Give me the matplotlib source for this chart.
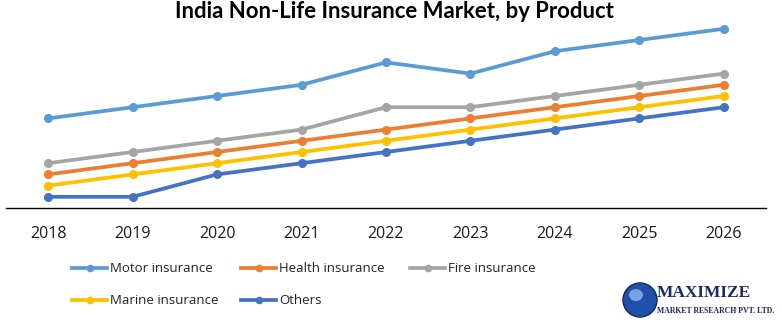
import matplotlib
matplotlib.use("Agg")
import matplotlib.pyplot as plt
from matplotlib.lines import Line2D
from matplotlib.patches import Ellipse

years = ["2018", "2019", "2020", "2021", "2022", "2023", "2024", "2025", "2026"]
motor = [8, 9, 10, 11, 13, 12, 14, 15, 16]
health = [3, 4, 5, 6, 7, 8, 9, 10, 11]
fire = [4, 5, 6, 7, 9, 9, 10, 11, 12]
marine = [2, 3, 4, 5, 6, 7, 8, 9, 10]
others = [1, 1, 3, 4, 5, 6, 7, 8, 9]

series = [
    ("Motor insurance", motor, "#5B9BD5"),
    ("Health insurance", health, "#ED7D31"),
    ("Fire insurance", fire, "#A5A5A5"),
    ("Marine insurance", marine, "#FFC000"),
    ("Others", others, "#4472C4"),
]

plt.rcParams["font.family"] = ["Open Sans", "DejaVu Sans"]

W, H = 782, 326
fig = plt.figure(figsize=(W / 100, H / 100), dpi=100)
ax = fig.add_axes([6 / W, (H - 208) / H, 760 / W, (208 - 17.6) / H])

x = list(range(len(years)))
# draw back to front so Motor sits on top
for name, vals, col in reversed(series):
    ax.plot(x, vals, color=col, lw=2.7, marker="o", ms=5.5,
            solid_capstyle="round", zorder=3)

ax.set_xlim(-0.5, len(years) - 0.5)
ax.set_ylim(0, 17)
ax.set_xticks(x)
ax.set_xticklabels(years, fontsize=11.5, color="#1a1a1a")
ax.tick_params(axis="x", length=0, pad=13)
ax.set_yticks([])
for s in ("top", "right", "left"):
    ax.spines[s].set_visible(False)
ax.spines["bottom"].set_color("#000000")
ax.spines["bottom"].set_linewidth(1.0)

title = fig.text(394 / W, 1 - 12 / H, "India Non-Life Insurance Market, by Product",
                 ha="center", va="center", fontsize=14, fontweight="bold",
                 family=["Lato", "DejaVu Sans"])
# fit the title to its intended span of 442 px
fig.canvas.draw()
tw = title.get_window_extent().width
title.set_fontsize(14 * 442 / tw)

# legend laid out in two rows of three
pos = [(72, 268), (241, 268), (410, 268), (72, 300), (241, 300)]
for (name, vals, col), (px, py) in zip(series, pos):
    fy = 1 - py / H
    fig.add_artist(Line2D([px / W, (px + 35) / W], [fy, fy], color=col, lw=2.7,
                          transform=fig.transFigure))
    fig.add_artist(Line2D([(px + 17.5) / W], [fy], color=col, marker="o", ms=4.5,
                          transform=fig.transFigure))
    fig.text((px + 38) / W, fy, name, ha="left", va="center", fontsize=9.5,
             color="#222222")

# company mark
gx, gy = 640, 300
fig.add_artist(Ellipse((gx / W, 1 - gy / H), 34 / W, 34 / H, transform=fig.transFigure,
                       facecolor="#1F4FA8", edgecolor="#0B2A6B", lw=1.0))
fig.add_artist(Ellipse(((gx - 4) / W, 1 - (gy - 5) / H), 14 / W, 12 / H,
                       transform=fig.transFigure, facecolor="#8FB8F0", edgecolor="none",
                       alpha=0.8))
fig.text(657 / W, 1 - 293 / H, "MAXIMIZE", ha="left", va="center", fontsize=12.5,
         fontweight="bold", color="#1A2A6C", family=["Liberation Serif", "DejaVu Serif"])
fig.text(657 / W, 1 - 311 / H, "MARKET RESEARCH PVT. LTD.", ha="left", va="center",
         fontsize=5.6, fontweight="bold", color="#1A2A6C",
         family=["Liberation Serif", "DejaVu Serif"])

fig.savefig("out.png", dpi=100)
